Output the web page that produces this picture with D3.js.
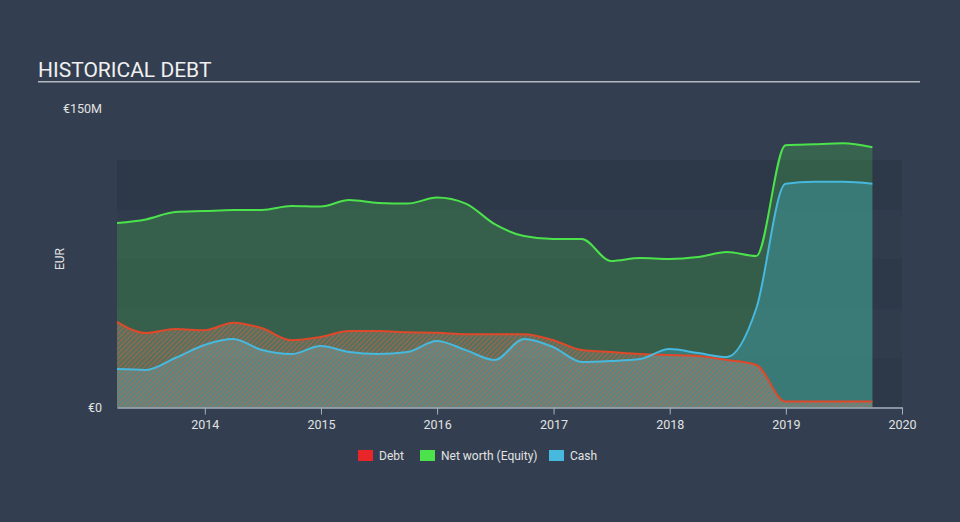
<!DOCTYPE html>
<html>
<head>
<meta charset="utf-8">
<title>Historical Debt</title>
<script src="https://cdn.jsdelivr.net/npm/d3@7"></script>
<style>
  body { margin: 0; background: #333f50; }
  svg { display: block; font-family: Roboto, "Open Sans", sans-serif; }
</style>
</head>
<body>
<svg id="chart" width="960" height="522"></svg>
<script>
// quarterly report dates
var dates = ['2013-03-31','2013-06-30','2013-09-30','2013-12-31','2014-03-31','2014-06-30','2014-09-30','2014-12-31',
  '2015-03-31','2015-06-30','2015-09-30','2015-12-31','2016-03-31','2016-06-30','2016-09-30','2016-12-31',
  '2017-03-31','2017-06-30','2017-09-30','2017-12-31','2018-03-31','2018-06-30','2018-09-30','2018-12-31',
  '2019-03-31','2019-06-30','2019-09-30'];

// values in EUR millions
var debt = [43.3, 37.6, 39.6, 39, 42.8, 40, 34, 35.6, 38.6, 38.6, 38, 37.8, 37, 37, 37, 34,
  29, 28, 27, 26.5, 26, 24, 21.5, 3, 3, 3, 3];
var equity = [93.2, 95, 98.7, 99.2, 99.7, 99.8, 101.8, 101.5, 104.8, 103.3, 103, 106, 103, 92.6, 86.6, 85.1,
  85.1, 74, 75.5, 75, 76, 78.5, 76.5, 132.5, 133, 133.4, 131.4];
var cash = [19.4, 19, 25, 31.6, 34.6, 29, 27, 31, 28, 27, 28, 33.6, 29, 24, 34.6, 30.5,
  23, 23.5, 24.5, 29.5, 27.5, 25.5, 50, 113, 114, 114, 113];

var yTicks = [0, 150];
var yTickLabels = ['€0', '€150M'];
var xTickYears = [2014, 2015, 2016, 2017, 2018, 2019, 2020];

var legendItems = [
  { name: 'Debt', color: '#e8262a' },
  { name: 'Net worth (Equity)', color: '#4ce24c' },
  { name: 'Cash', color: '#47b8de' }
];

var svg = d3.select('#chart');
var parse = d3.timeParse('%Y-%m-%d');
var rows = dates.map(function(d, i) {
  return { date: parse(d), debt: debt[i], equity: equity[i], cash: cash[i] };
});

var x = d3.scaleTime()
  .domain([parse('2013-03-31'), new Date(2020, 0, 1)])
  .range([117, 902]);
var y = d3.scaleLinear().domain([0, 150]).range([407.5, 110.5]);

// title
svg.append('text')
  .attr('x', 38).attr('y', 77)
  .attr('fill', '#f0f0f0')
  .attr('font-size', 21)
  .text('HISTORICAL DEBT');
svg.append('rect')
  .attr('x', 38).attr('y', 81).attr('width', 882).attr('height', 1.5)
  .attr('fill', '#b4b9c0');

// background bands
var bandSteps = d3.range(0, 125, 25);
svg.append('g').selectAll('rect')
  .data(bandSteps)
  .enter().append('rect')
  .attr('x', x.range()[0])
  .attr('width', x.range()[1] - x.range()[0])
  .attr('y', function(d) { return y(d + 25); })
  .attr('height', function(d) { return y(d) - y(d + 25); })
  .attr('fill', function(d, i) { return i % 2 === 0 ? '#2d3948' : '#303c4c'; });

// hatch pattern for debt
var defs = svg.append('defs');
var pat = defs.append('pattern')
  .attr('id', 'hatch')
  .attr('patternUnits', 'userSpaceOnUse')
  .attr('width', 3.5).attr('height', 3.5)
  .attr('patternTransform', 'rotate(45)');
pat.append('rect').attr('width', 3.5).attr('height', 3.5).attr('fill', 'rgba(255,255,255,0.12)');
pat.append('rect').attr('width', 1.6).attr('height', 3.5).attr('fill', 'rgba(228,88,50,0.45)');

function area(key) {
  return d3.area()
    .x(function(d) { return x(d.date); })
    .y0(y(0))
    .y1(function(d) { return y(d[key]); })
    .curve(d3.curveMonotoneX);
}
function line(key) {
  return d3.line()
    .x(function(d) { return x(d.date); })
    .y(function(d) { return y(d[key]); })
    .curve(d3.curveMonotoneX);
}

svg.append('path').datum(rows).attr('d', area('equity'))
  .attr('fill', '#4ce24c').attr('fill-opacity', 0.22);
svg.append('path').datum(rows).attr('d', area('cash'))
  .attr('fill', '#47b8de').attr('fill-opacity', 0.3);
svg.append('path').datum(rows).attr('d', area('debt'))
  .attr('fill', 'url(#hatch)');

svg.append('path').datum(rows).attr('d', line('equity'))
  .attr('fill', 'none').attr('stroke', '#4ce24c').attr('stroke-width', 2);
svg.append('path').datum(rows).attr('d', line('debt'))
  .attr('fill', 'none').attr('stroke', '#e0482a').attr('stroke-width', 2);
svg.append('path').datum(rows).attr('d', line('cash'))
  .attr('fill', 'none').attr('stroke', '#47b8de').attr('stroke-width', 2);

// x axis
var xAxis = d3.axisBottom(x)
  .tickValues(xTickYears.map(function(yr) { return new Date(yr, 0, 1); }))
  .tickFormat(d3.timeFormat('%Y'))
  .tickSize(7)
  .tickSizeOuter(0);
var gx = svg.append('g')
  .attr('transform', 'translate(0,' + y(0) + ')')
  .call(xAxis);
gx.select('.domain').attr('stroke', '#a9b1bd').attr('stroke-width', 1.5);
gx.selectAll('.tick line').attr('stroke', '#a9b1bd');
gx.selectAll('.tick text')
  .attr('fill', '#e2e2e2')
  .attr('font-size', 12.5)
  .attr('font-family', 'Roboto, sans-serif')
  .attr('dy', '0.9em');

// y labels
svg.append('g').selectAll('text')
  .data(yTicks)
  .enter().append('text')
  .attr('x', 102)
  .attr('y', function(d) { return y(d) - (d === 150 ? 2 : 0); })
  .attr('dy', '0.35em')
  .attr('text-anchor', 'end')
  .attr('fill', '#e2e2e2')
  .attr('font-size', 12.5)
  .text(function(d, i) { return yTickLabels[i]; });

svg.append('text')
  .attr('transform', 'translate(64,259) rotate(-90)')
  .attr('text-anchor', 'middle')
  .attr('fill', '#e2e2e2')
  .attr('font-size', 12)
  .text('EUR');

// legend
var legendX = [358, 420, 549];
var lg = svg.append('g').selectAll('g')
  .data(legendItems)
  .enter().append('g')
  .attr('transform', function(d, i) { return 'translate(' + legendX[i] + ',450)'; });
lg.append('rect').attr('width', 15).attr('height', 11).attr('fill', function(d) { return d.color; });
lg.append('text')
  .attr('x', 21).attr('y', 6).attr('dy', '0.35em')
  .attr('fill', '#e2e2e2')
  .attr('font-size', 12)
  .text(function(d) { return d.name; });
</script>
</body>
</html>
